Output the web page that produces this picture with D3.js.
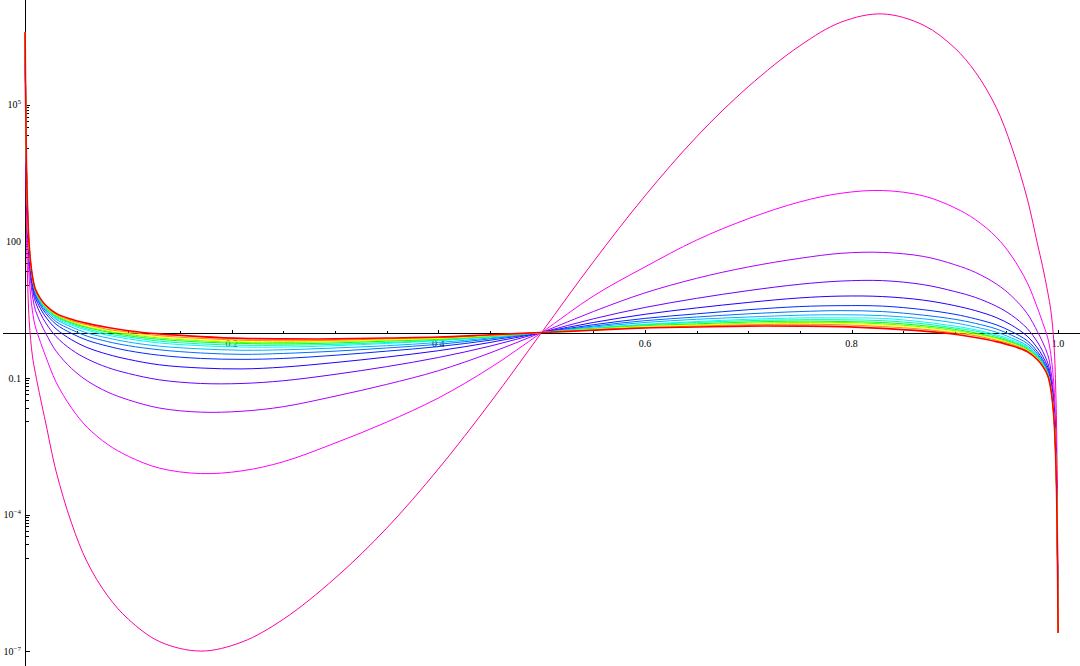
<!DOCTYPE html>
<html lang="en">
<head>
<meta charset="utf-8">
<style>
  body { margin: 0; background: #fff; }
  svg { display: block; background: #fff; }
  text { font-family: "Liberation Serif", "Times New Roman", serif; font-size: 10px; fill: #000; }
</style>
<script src="https://d3js.org/d3.v7.min.js"></script>
<title>Log plot family</title>
</head>
<body>
<div id="chart"></div>
<script>
var width = 1080, height = 666;

// x positions the curves were read at
var xGrid = [0, 0.001, 0.002, 0.004, 0.007, 0.01, 0.015, 0.02, 0.03, 0.045, 0.06, 0.08, 0.1, 0.13, 0.17, 0.21, 0.25, 0.3, 0.35, 0.4, 0.45, 0.5,
             0.55, 0.6, 0.65, 0.7, 0.75, 0.79, 0.83, 0.87, 0.9, 0.92, 0.94, 0.955, 0.97, 0.98, 0.985, 0.99, 0.993, 0.996, 0.998, 0.999, 1];

// log10 of each curve, outermost (pink) first, innermost (red) last
var curve01 = [6.6, 2.9, 1.5, 0.25, -0.5, -0.9, -1.46, -1.99, -3.05, -4.19, -5.04, -5.79, -6.30, -6.79, -7.00, -6.80, -6.30, -5.40, -4.30, -3.00, -1.55, 0,
               1.55, 3.0, 4.3, 5.4, 6.3, 6.82, 7.0, 6.75, 6.25, 5.72, 4.95, 4.08, 2.95, 1.95, 1.45, 0.88, 0.48, -0.25, -1.5, -2.9, -6.6];
var curve02 = [6.6, 3.63, 2.35, 1.18, 0.49, 0.12, -0.22, -0.53, -1.09, -1.66, -2.08, -2.46, -2.72, -2.98, -3.10, -3.04, -2.84, -2.43, -1.97, -1.44, -0.78, 0,
               0.80, 1.44, 2.03, 2.50, 2.87, 3.06, 3.12, 3.0, 2.74, 2.48, 2.1, 1.68, 1.1, 0.54, 0.22, -0.12, -0.49, -1.18, -2.35, -3.63, -6.6];
var curve03 = [6.6, 3.89, 2.64, 1.50, 0.83, 0.49, 0.21, -0.02, -0.41, -0.79, -1.06, -1.31, -1.48, -1.66, -1.75, -1.73, -1.63, -1.40, -1.14, -0.84, -0.45, 0,
               0.46, 0.87, 1.19, 1.44, 1.63, 1.74, 1.76, 1.67, 1.49, 1.32, 1.07, 0.8, 0.42, 0.02, -0.21, -0.49, -0.83, -1.50, -2.64, -3.89, -6.6];
var curve04 = [6.6, 4.01, 2.78, 1.65, 0.99, 0.67, 0.41, 0.21, -0.09, -0.38, -0.58, -0.77, -0.90, -1.04, -1.12, -1.12, -1.06, -0.92, -0.75, -0.55, -0.30, 0,
               0.30, 0.55, 0.75, 0.92, 1.06, 1.13, 1.14, 1.05, 0.90, 0.77, 0.58, 0.38, 0.09, -0.21, -0.41, -0.67, -0.99, -1.65, -2.78, -4.01, -6.6];
var curve05 = [6.6, 4.07, 2.85, 1.74, 1.08, 0.76, 0.52, 0.34, 0.08, -0.16, -0.33, -0.48, -0.59, -0.71, -0.78, -0.80, -0.76, -0.66, -0.54, -0.40, -0.22, 0,
               0.22, 0.40, 0.54, 0.66, 0.76, 0.80, 0.79, 0.71, 0.59, 0.48, 0.33, 0.16, -0.08, -0.34, -0.52, -0.76, -1.08, -1.74, -2.85, -4.07, -6.6];
var curve06 = [6.6, 4.11, 2.90, 1.79, 1.13, 0.82, 0.59, 0.42, 0.18, -0.02, -0.17, -0.30, -0.40, -0.50, -0.57, -0.59, -0.57, -0.50, -0.41, -0.31, -0.17, 0,
               0.17, 0.31, 0.41, 0.50, 0.57, 0.59, 0.58, 0.50, 0.40, 0.30, 0.17, 0.02, -0.18, -0.42, -0.59, -0.82, -1.13, -1.79, -2.90, -4.11, -6.6];
var curve07 = [6.6, 4.13, 2.92, 1.81, 1.16, 0.85, 0.63, 0.47, 0.24, 0.06, -0.08, -0.20, -0.29, -0.38, -0.45, -0.48, -0.46, -0.41, -0.34, -0.26, -0.14, 0,
               0.14, 0.26, 0.34, 0.41, 0.46, 0.48, 0.46, 0.38, 0.29, 0.20, 0.08, -0.06, -0.24, -0.47, -0.63, -0.85, -1.16, -1.81, -2.92, -4.13, -6.6];
var curve08 = [6.6, 4.15, 2.94, 1.84, 1.18, 0.88, 0.65, 0.50, 0.29, 0.12, -0.01, -0.12, -0.21, -0.30, -0.36, -0.39, -0.38, -0.34, -0.29, -0.22, -0.12, 0,
               0.12, 0.22, 0.29, 0.34, 0.38, 0.39, 0.37, 0.30, 0.21, 0.12, 0.01, -0.12, -0.29, -0.50, -0.65, -0.88, -1.18, -1.84, -2.94, -4.15, -6.6];
var curve09 = [6.6, 4.16, 2.96, 1.85, 1.20, 0.90, 0.68, 0.53, 0.32, 0.16, 0.05, -0.06, -0.14, -0.23, -0.29, -0.32, -0.32, -0.29, -0.24, -0.18, -0.10, 0,
               0.10, 0.18, 0.24, 0.29, 0.32, 0.32, 0.31, 0.23, 0.14, 0.06, -0.05, -0.16, -0.32, -0.53, -0.68, -0.90, -1.20, -1.85, -2.96, -4.16, -6.6];
var curve10 = [6.6, 4.17, 2.97, 1.86, 1.21, 0.91, 0.69, 0.54, 0.34, 0.19, 0.08, -0.03, -0.10, -0.19, -0.25, -0.28, -0.28, -0.26, -0.22, -0.17, -0.09, 0,
               0.09, 0.17, 0.22, 0.26, 0.28, 0.28, 0.26, 0.19, 0.10, 0.03, -0.08, -0.19, -0.34, -0.54, -0.69, -0.91, -1.21, -1.86, -2.97, -4.17, -6.6];
var curve11 = [6.6, 4.18, 2.97, 1.87, 1.22, 0.92, 0.70, 0.55, 0.36, 0.21, 0.11, 0.01, -0.07, -0.15, -0.21, -0.24, -0.25, -0.23, -0.19, -0.15, -0.08, 0,
               0.08, 0.15, 0.19, 0.23, 0.25, 0.24, 0.22, 0.15, 0.07, -0.01, -0.11, -0.21, -0.36, -0.55, -0.70, -0.92, -1.22, -1.87, -2.97, -4.18, -6.6];
var curve12 = [6.6, 4.18, 2.98, 1.88, 1.23, 0.93, 0.71, 0.57, 0.38, 0.23, 0.13, 0.03, -0.04, -0.12, -0.18, -0.22, -0.22, -0.20, -0.17, -0.14, -0.08, 0,
               0.08, 0.14, 0.17, 0.20, 0.22, 0.22, 0.19, 0.12, 0.04, -0.03, -0.13, -0.23, -0.38, -0.57, -0.71, -0.93, -1.23, -1.88, -2.98, -4.18, -6.6];
var curve13 = [6.6, 4.19, 2.98, 1.88, 1.23, 0.93, 0.72, 0.57, 0.39, 0.25, 0.14, 0.05, -0.02, -0.10, -0.16, -0.20, -0.20, -0.19, -0.16, -0.13, -0.07, 0,
               0.07, 0.13, 0.16, 0.19, 0.20, 0.20, 0.16, 0.10, 0.02, -0.05, -0.14, -0.25, -0.39, -0.57, -0.72, -0.93, -1.23, -1.88, -2.98, -4.19, -6.6];
var curve14 = [6.6, 4.19, 2.99, 1.89, 1.24, 0.94, 0.73, 0.58, 0.40, 0.26, 0.17, 0.07, 0.01, -0.07, -0.13, -0.17, -0.18, -0.17, -0.14, -0.11, -0.06, 0,
               0.06, 0.11, 0.14, 0.17, 0.18, 0.17, 0.13, 0.07, -0.01, -0.07, -0.17, -0.26, -0.40, -0.58, -0.73, -0.94, -1.24, -1.89, -2.99, -4.19, -6.6];
var curve15 = [6.6, 4.2, 3.0, 1.9, 1.25, 0.95, 0.74, 0.60, 0.42, 0.29, 0.20, 0.11, 0.04, -0.03, -0.09, -0.13, -0.14, -0.14, -0.12, -0.10, -0.05, 0,
               0.05, 0.10, 0.12, 0.14, 0.14, 0.13, 0.09, 0.03, -0.04, -0.11, -0.20, -0.29, -0.42, -0.60, -0.74, -0.95, -1.25, -1.90, -3.0, -4.2, -6.6];

var curves = [curve01, curve02, curve03, curve04, curve05, curve06, curve07, curve08,
              curve09, curve10, curve11, curve12, curve13, curve14, curve15];

// tick values and labels
var xMajorTicks = [0.2, 0.4, 0.6, 0.8, 1.0];
var xTickLabels = ["0.2", "0.4", "0.6", "0.8", "1.0"];
var yMajorExps = [-7, -4, -1, 2, 5];
var yTickBase = ["10", "10", "0.1", "100", "10"];
var yTickSup = ["\u22127", "\u22124", "", "", "5"];

// line hues (degrees), same order as curves
var hues = [322, 300, 280, 265, 248, 230, 214, 198, 182, 158, 128, 98, 62, 32, 0];

var svg = d3.select("#chart")
    .append("svg")
    .attr("width", width)
    .attr("height", height);

var x = d3.scaleLinear().domain([0, 1]).range([25.1, 1058.1]);
var y = d3.scaleLog().domain([Math.pow(10, -7.306), Math.pow(10, 7.306)]).range([665, 0]);

var axisY = Math.round(y(1)) + 0.5;
var axisX = 25.5;

// axes
var axes = svg.append("g").attr("stroke", "#000").attr("stroke-width", 1).attr("shape-rendering", "crispEdges");
axes.append("line").attr("x1", 3).attr("x2", width).attr("y1", axisY).attr("y2", axisY);
axes.append("line").attr("x1", axisX).attr("x2", axisX).attr("y1", 0).attr("y2", height);

// x ticks: minor every 0.05, major every 0.2
var xMinor = d3.range(1, 21).map(function(i) { return i * 0.05; });
axes.selectAll(".xt").data(xMinor).enter().append("line")
    .attr("x1", function(d) { return Math.round(x(d)) + 0.5; })
    .attr("x2", function(d) { return Math.round(x(d)) + 0.5; })
    .attr("y1", axisY)
    .attr("y2", function(d) {
        var major = xMajorTicks.some(function(m) { return Math.abs(m - d) < 1e-9; });
        return axisY - (major ? 4 : 2.5);
    });

svg.selectAll(".xl").data(xMajorTicks).enter().append("text")
    .attr("x", function(d) { return x(d); })
    .attr("y", axisY + 13)
    .attr("text-anchor", "middle")
    .text(function(d, i) { return xTickLabels[i]; });

// y ticks: majors every 3 decades, minors split each 3-decade step linearly
var yMinor = [];
yMajorExps.forEach(function(e) {
    var m = Math.pow(10, e);
    for (var k = 1; k <= 8; k++) yMinor.push(m - k * (m - m / 1000) / 9);
});
yMinor = yMinor.filter(function(v) { return Math.abs(Math.log10(v)) < 7.03; });

axes.selectAll(".ymin").data(yMinor).enter().append("line")
    .attr("x1", axisX).attr("x2", axisX + 3)
    .attr("y1", function(d) { return Math.round(y(d)) + 0.5; })
    .attr("y2", function(d) { return Math.round(y(d)) + 0.5; });

axes.selectAll(".ymaj").data(yMajorExps).enter().append("line")
    .attr("x1", axisX).attr("x2", axisX + 4.5)
    .attr("y1", function(d) { return Math.round(y(Math.pow(10, d))) + 0.5; })
    .attr("y2", function(d) { return Math.round(y(Math.pow(10, d))) + 0.5; });

var yl = svg.selectAll(".yl").data(yMajorExps).enter().append("text")
    .attr("x", 21)
    .attr("y", function(d) { return y(Math.pow(10, d)) + 3.5; })
    .attr("text-anchor", "end");
yl.append("tspan").text(function(d, i) { return yTickBase[i]; });
yl.append("tspan")
    .attr("dy", -4)
    .style("font-size", "7px")
    .text(function(d, i) { return yTickSup[i]; });

// curves
var line = d3.line()
    .x(function(d) { return x(d[0]); })
    .y(function(d) { return y(Math.pow(10, d[1])); })
    .curve(d3.curveCatmullRom.alpha(0.5));

svg.append("g").selectAll("path")
    .data(curves)
    .enter().append("path")
    .attr("fill", "none")
    .attr("stroke", function(d, i) { return d3.hsl(hues[i], 1, 0.5); })
    .attr("stroke-width", function(d, i) { return i === curves.length - 1 ? 1.6 : 1; })
    .attr("d", function(d) {
        return line(d.map(function(v, i) { return [xGrid[i], v]; }));
    });
</script>
</body>
</html>
